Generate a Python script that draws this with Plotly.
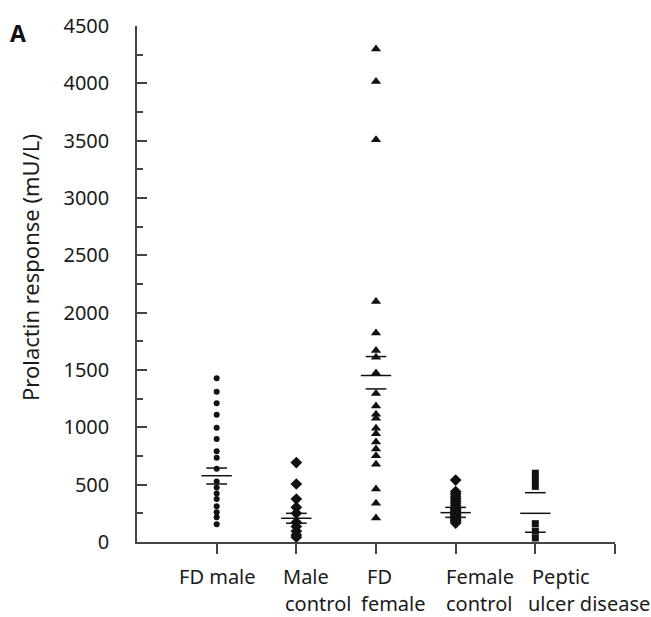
import plotly.graph_objects as go

# ---- data ----
groups = ["FD male", "Male control", "FD female", "Female control", "Peptic ulcer disease"]
label_line1 = ["FD male", "Male", "FD", "Female", "Peptic"]
label_line2 = ["", "control", "female", "control", "ulcer disease"]

fd_male = [1427, 1310, 1209, 1110, 997, 899, 792, 734, 639, 528, 476, 424, 375, 311, 259, 215, 155]
male_control = [693, 506, 375, 302, 250, 172, 135, 94, 60, 42]
fd_female = [4300, 4016, 3508, 2098, 1823, 1670, 1612, 1473, 1296, 1186, 1114, 1079, 992, 945, 873, 810, 752, 679, 462, 337, 210]
female_control = [540, 440, 420, 400, 380, 360, 340, 320, 300, 290, 280, 270, 260, 250, 240, 230, 220, 210, 200, 190, 180, 165]
peptic = [600, 545, 485, 160, 95, 35]

means = [578, 207, 1452, 256, 250]
sem_upper = [645, 250, 1617, 302, 430]
sem_lower = [506, 164, 1335, 215, 85]

ytick_vals = [0, 500, 1000, 1500, 2000, 2500, 3000, 3500, 4000, 4500]

# ---- figure ----
series = [fd_male, male_control, fd_female, female_control, peptic]
symbols = ["circle", "diamond", "triangle-up", "diamond", "square"]
sizes = [6, 9, 9, 9, 7]

fig = go.Figure()
for i, vals in enumerate(series):
    fig.add_trace(go.Scatter(
        x=[i + 1] * len(vals), y=vals, mode="markers",
        marker=dict(symbol=symbols[i], size=sizes[i], color="#111111", line=dict(width=0)),
        cliponaxis=False, showlegend=False, hoverinfo="y"))

long_hw = 0.19
short_hw = 0.13
lx, ly = [], []
for i in range(len(groups)):
    c = i + 1
    for val, hw in ((means[i], long_hw), (sem_upper[i], short_hw), (sem_lower[i], short_hw)):
        lx += [c - hw, c + hw, None]
        ly += [val, val, None]
fig.add_trace(go.Scatter(x=lx, y=ly, mode="lines", line=dict(color="#111111", width=1.5),
                         showlegend=False, hoverinfo="skip", cliponaxis=False))

L, T, W, H = 137, 24, 651, 617
PW, PH = 615 - 137, 542 - 24

annots = []
xpos1 = [0.50, 1.81, 2.86, 3.85, 4.93]
xpos2 = [0.50, 1.83, 2.79, 3.85, 4.88]
for i in range(len(groups)):
    annots.append(dict(x=xpos1[i], y=(542 - 577) / PH, xref="x", yref="paper", text=label_line1[i],
                       showarrow=False, xanchor="left", yanchor="middle",
                       font=dict(family="Noto Sans", size=20, color="#1a1a1a")))
    if label_line2[i]:
        annots.append(dict(x=xpos2[i], y=(542 - 604) / PH, xref="x", yref="paper", text=label_line2[i],
                           showarrow=False, xanchor="left", yanchor="middle",
                           font=dict(family="Noto Sans", size=20, color="#1a1a1a")))
annots.append(dict(x=(30 - L) / PW, y=(542 - 267) / PH, xref="paper", yref="paper",
                   text="Prolactin response (mU/L)", textangle=-90, showarrow=False,
                   xanchor="center", yanchor="middle",
                   font=dict(family="Noto Sans", size=22, color="#1a1a1a")))
annots.append(dict(x=(18 - L) / PW, y=(542 - 31) / PH, xref="paper", yref="paper",
                   text="<b>A</b>", showarrow=False, xanchor="center", yanchor="middle",
                   font=dict(family="Noto Sans", size=23, color="#111111")))

fig.update_layout(
    width=W, height=H,
    margin=dict(l=L, r=W - 615, t=T, b=H - 542, pad=0),
    plot_bgcolor="white", paper_bgcolor="white",
    annotations=annots,
    xaxis=dict(range=[0, 6], tickvals=[1, 2, 3, 4, 5, 6], ticktext=[""] * 6,
               ticks="outside", ticklen=10, tickwidth=1.5, tickcolor="#444444",
               showline=True, linecolor="#444444", linewidth=1.5,
               showgrid=False, zeroline=False, fixedrange=True),
    yaxis=dict(range=[0, 4500], tickvals=ytick_vals, ticks="inside", ticklen=10,
               tickwidth=1.5, tickcolor="#444444",
               minor=dict(dtick=250, ticks="inside", ticklen=6, tickwidth=1.5, tickcolor="#444444"),
               showline=True, linecolor="#444444", linewidth=1.5,
               showgrid=False, zeroline=False, ticklabelstandoff=22,
               tickfont=dict(family="Noto Sans", size=20, color="#1a1a1a")),
)

fig.write_html("out.html")
